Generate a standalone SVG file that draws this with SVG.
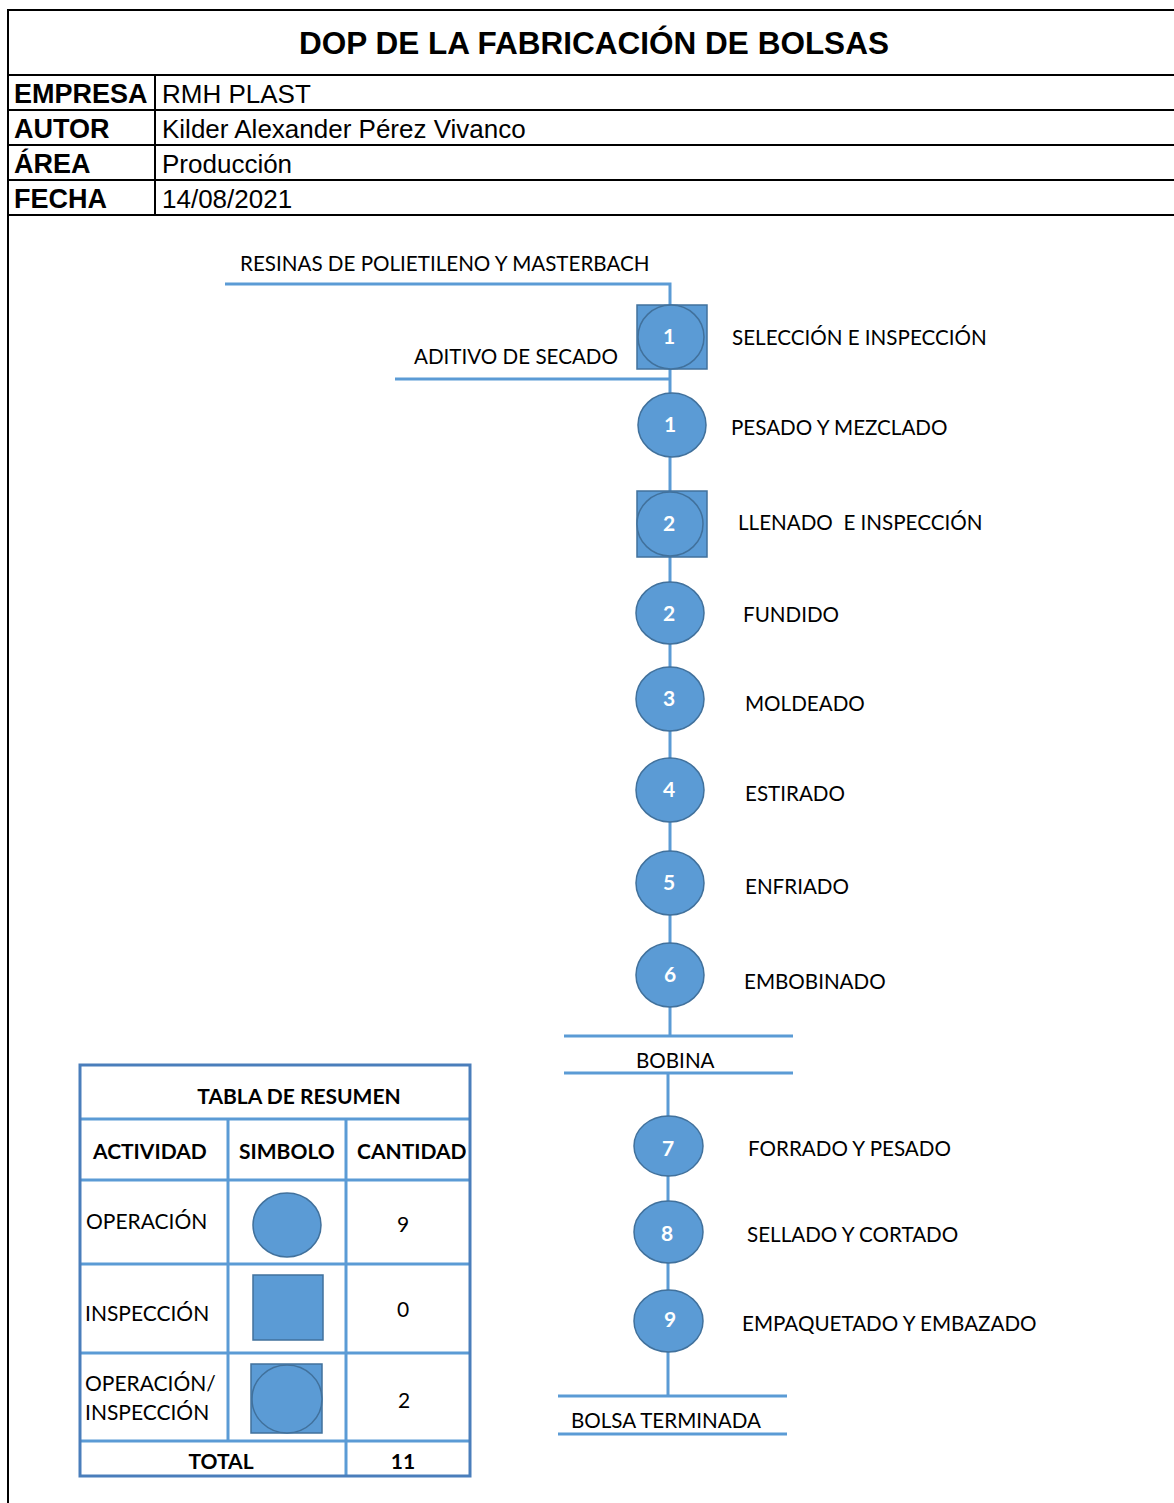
<svg xmlns="http://www.w3.org/2000/svg" width="1174" height="1503" viewBox="0 0 1174 1503">
  <style>
    .frame { stroke: #000; stroke-width: 2; fill: none; }
    .hb { font-family: "Liberation Sans", Arial, sans-serif; font-weight: bold; font-size: 27px; fill: #000; }
    .hr { font-family: "Liberation Sans", Arial, sans-serif; font-size: 26px; fill: #000; }
    .title { font-family: "Liberation Sans", Arial, sans-serif; font-weight: bold; font-size: 31.5px; fill: #000; }
    .flow { stroke: #5B9BD5; stroke-width: 3; fill: none; }
    .op { fill: #5B9BD5; stroke: #41719C; stroke-width: 1.5; }
    .num { font-family: Lato, "Noto Sans", sans-serif; font-weight: bold; font-size: 21px; fill: #fff; text-anchor: middle; }
    .lbl { font-family: Lato, "Noto Sans", sans-serif; font-size: 20.6px; fill: #000; }
    .tb { font-family: Lato, "Noto Sans", sans-serif; font-weight: bold; font-size: 21px; fill: #000; }
    .tr { font-family: Lato, "Noto Sans", sans-serif; font-size: 21px; fill: #000; }
    .grid { stroke: #5B9BD5; stroke-width: 3; fill: none; }
    .outer { stroke: #4A7EBB; stroke-width: 3; fill: none; }
  </style>

  <!-- header form -->
  <g id="header">
    <line class="frame" x1="8" y1="10" x2="1174" y2="10"/>
    <line class="frame" x1="8" y1="9" x2="8" y2="1503"/>
    <line class="frame" x1="8" y1="75" x2="1174" y2="75"/>
    <line class="frame" x1="8" y1="110" x2="1174" y2="110"/>
    <line class="frame" x1="8" y1="145" x2="1174" y2="145"/>
    <line class="frame" x1="8" y1="180" x2="1174" y2="180"/>
    <line class="frame" x1="8" y1="215" x2="1174" y2="215"/>
    <line class="frame" x1="155" y1="75" x2="155" y2="215"/>
    <text class="title" x="594" y="54" text-anchor="middle">DOP DE LA FABRICACIÓN DE BOLSAS</text>
    <text class="hb" x="14" y="103">EMPRESA</text>
    <text class="hr" x="162" y="103">RMH PLAST</text>
    <text class="hb" x="14" y="138">AUTOR</text>
    <text class="hr" x="162" y="138">Kilder Alexander Pérez Vivanco</text>
    <text class="hb" x="14" y="173">ÁREA</text>
    <text class="hr" x="162" y="173">Producción</text>
    <text class="hb" x="14" y="208">FECHA</text>
    <text class="hr" x="162" y="208">14/08/2021</text>
  </g>

  <!-- connectors and material lines -->
  <g id="connectors">
    <polyline class="flow" points="225,284 670,284 670,1036"/>
    <line class="flow" x1="395" y1="379" x2="670" y2="379"/>
    <line class="flow" x1="564" y1="1036" x2="793" y2="1036"/>
    <line class="flow" x1="564" y1="1073" x2="793" y2="1073"/>
    <line class="flow" x1="668" y1="1073" x2="668" y2="1396"/>
    <line class="flow" x1="558" y1="1396" x2="787" y2="1396"/>
    <line class="flow" x1="558" y1="1434" x2="787" y2="1434"/>
  </g>

  <g id="input-resinas">
    <text class="lbl" x="240" y="271">RESINAS DE POLIETILENO Y MASTERBACH</text>
  </g>
  <g id="input-aditivo">
    <text class="lbl" x="414" y="364">ADITIVO DE SECADO</text>
  </g>

  <!-- combined operation / inspection 1 -->
  <g id="oi-1">
    <rect class="op" x="637" y="305" width="70" height="64"/>
    <ellipse class="op" cx="671" cy="337" rx="33" ry="32"/>
    <text class="num" x="669" y="344">1</text>
    <text class="lbl" x="732" y="345">SELECCIÓN E INSPECCIÓN</text>
  </g>
  <g id="op-1">
    <ellipse class="op" cx="672" cy="425" rx="34" ry="32"/>
    <text class="num" x="670" y="432">1</text>
    <text class="lbl" x="731" y="435">PESADO Y MEZCLADO</text>
  </g>
  <g id="oi-2">
    <rect class="op" x="637" y="491" width="70" height="66"/>
    <ellipse class="op" cx="670" cy="524" rx="33" ry="32"/>
    <text class="num" x="669" y="531">2</text>
    <text class="lbl" x="738" y="530" xml:space="preserve">LLENADO  E INSPECCIÓN</text>
  </g>
  <g id="op-2">
    <ellipse class="op" cx="670" cy="613" rx="34" ry="31"/>
    <text class="num" x="669" y="621">2</text>
    <text class="lbl" x="743" y="622">FUNDIDO</text>
  </g>
  <g id="op-3">
    <ellipse class="op" cx="670" cy="699" rx="34" ry="32"/>
    <text class="num" x="669" y="706">3</text>
    <text class="lbl" x="745" y="711">MOLDEADO</text>
  </g>
  <g id="op-4">
    <ellipse class="op" cx="670" cy="790" rx="34" ry="32"/>
    <text class="num" x="669" y="797">4</text>
    <text class="lbl" x="745" y="801">ESTIRADO</text>
  </g>
  <g id="op-5">
    <ellipse class="op" cx="670" cy="883" rx="34" ry="32"/>
    <text class="num" x="669" y="890">5</text>
    <text class="lbl" x="745" y="894">ENFRIADO</text>
  </g>
  <g id="op-6">
    <ellipse class="op" cx="670" cy="975" rx="34" ry="32"/>
    <text class="num" x="670" y="982">6</text>
    <text class="lbl" x="744" y="989">EMBOBINADO</text>
  </g>
  <g id="bobina">
    <text class="lbl" x="636" y="1068">BOBINA</text>
  </g>
  <g id="op-7">
    <ellipse class="op" cx="668.5" cy="1146" rx="34.5" ry="30"/>
    <text class="num" x="668" y="1156">7</text>
    <text class="lbl" x="748" y="1156">FORRADO Y PESADO</text>
  </g>
  <g id="op-8">
    <ellipse class="op" cx="668.5" cy="1232" rx="34.5" ry="31"/>
    <text class="num" x="667" y="1241">8</text>
    <text class="lbl" x="747" y="1242">SELLADO Y CORTADO</text>
  </g>
  <g id="op-9">
    <ellipse class="op" cx="668.5" cy="1321" rx="34.5" ry="31"/>
    <text class="num" x="670" y="1327">9</text>
    <text class="lbl" x="742" y="1331">EMPAQUETADO Y EMBAZADO</text>
  </g>
  <g id="bolsa-terminada">
    <text class="lbl" x="571" y="1428">BOLSA TERMINADA</text>
  </g>

  <!-- summary table -->
  <g id="summary-table">
    <line class="grid" x1="80" y1="1119" x2="470" y2="1119"/>
    <line class="grid" x1="80" y1="1180" x2="470" y2="1180"/>
    <line class="grid" x1="80" y1="1264" x2="470" y2="1264"/>
    <line class="grid" x1="80" y1="1353" x2="470" y2="1353"/>
    <line class="grid" x1="80" y1="1441" x2="470" y2="1441"/>
    <line class="grid" x1="228" y1="1119" x2="228" y2="1441"/>
    <line class="grid" x1="346" y1="1119" x2="346" y2="1476"/>
    <rect class="outer" x="80" y="1065" width="390" height="411"/>
    <text class="tb" x="299" y="1104" text-anchor="middle">TABLA DE RESUMEN</text>
    <text class="tb" x="93" y="1159">ACTIVIDAD</text>
    <text class="tb" x="239" y="1159">SIMBOLO</text>
    <text class="tb" x="357" y="1159">CANTIDAD</text>
    <text class="tr" x="86" y="1229">OPERACIÓN</text>
    <ellipse class="op" cx="287" cy="1225" rx="34" ry="32"/>
    <text class="tr" x="403" y="1232" text-anchor="middle">9</text>
    <text class="tr" x="85" y="1321">INSPECCIÓN</text>
    <rect class="op" x="253" y="1275" width="70" height="65"/>
    <text class="tr" x="403" y="1317" text-anchor="middle">0</text>
    <text class="tr" x="85" y="1391">OPERACIÓN/</text>
    <text class="tr" x="85" y="1420">INSPECCIÓN</text>
    <rect class="op" x="251" y="1364" width="71" height="69"/>
    <ellipse class="op" cx="287" cy="1399" rx="35" ry="34"/>
    <text class="tr" x="404" y="1408" text-anchor="middle">2</text>
    <text class="tb" x="221" y="1469" text-anchor="middle">TOTAL</text>
    <text class="tb" x="403" y="1469" text-anchor="middle">11</text>
  </g>
</svg>
